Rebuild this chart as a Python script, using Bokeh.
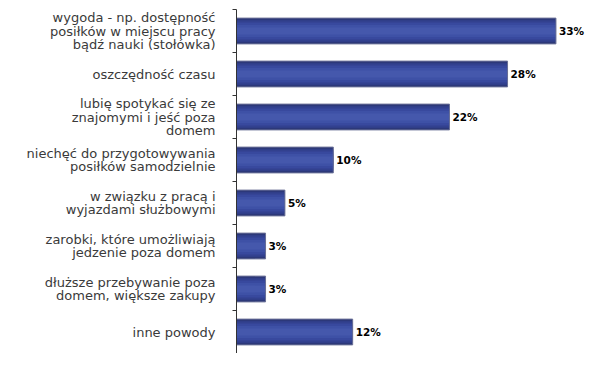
from bokeh.plotting import figure
from bokeh.models import Range1d, FixedTicker, ColumnDataSource
from bokeh.core.properties import value
from bokeh.embed import file_html
from bokeh.resources import INLINE

categories = [
    "wygoda - np. dostępność\nposiłków w miejscu pracy\nbądź nauki (stołówka)",
    "oszczędność czasu",
    "lubię spotykać się ze\nznajomymi i jeść poza\ndomem",
    "niechęć do przygotowywania\nposiłków samodzielnie",
    "w związku z pracą i\nwyjazdami służbowymi",
    "zarobki, które umożliwiają\njedzenie poza domem",
    "dłuższe przebywanie poza\ndomem, większe zakupy",
    "inne powody",
]
values = [33, 28, 22, 10, 5, 3, 3, 12]
value_labels = ["33%", "28%", "22%", "10%", "5%", "3%", "3%", "12%"]

pos = list(range(1, len(categories) + 1))
src = ColumnDataSource(dict(y=pos, v=values, lab=value_labels))

p = figure(width=599, height=353, output_backend="svg", toolbar_location=None,
           x_range=Range1d(0, 37.5), y_range=Range1d(len(categories) + 0.5, 0.5),
           min_border_left=236, min_border_right=0, min_border_top=9, min_border_bottom=0)
p.outline_line_color = None
p.xgrid.visible = False
p.ygrid.visible = False
p.xaxis.visible = False

# bars with a cylinder-like shading
shades = [(0.60, "#2c3879"), (0.50, "#32418f"), (0.40, "#38499e"),
          (0.28, "#3e51a6"), (0.16, "#4558ac")]
for h, c in shades:
    p.hbar(y="y", right="v", left=0, height=h, source=src,
           fill_color=c, line_color=None)
p.hbar(y="y", right="v", left=0, height=0.6, source=src,
       fill_color=None, line_color="#6a7096", line_width=1)

p.text(x="v", y="y", text="lab", source=src, x_offset=3,
       text_baseline="middle", text_align="left",
       text_font=value("DejaVu Sans"), text_font_style="bold",
       text_font_size="10.5px", text_color="#000000")

ax = p.yaxis[0]
ax.ticker = FixedTicker(ticks=pos, minor_ticks=[i + 0.5 for i in range(0, len(categories) + 1)])
ax.major_label_overrides = {i: c for i, c in zip(pos, categories)}
ax.major_tick_line_color = None
ax.major_tick_out = 0
ax.major_tick_in = 0
ax.minor_tick_out = 4
ax.minor_tick_in = 0
ax.minor_tick_line_color = "#333333"
ax.axis_line_color = "#333333"
ax.major_label_standoff = 17
ax.major_label_text_font = "DejaVu Sans"
ax.major_label_text_font_size = "13px"
ax.major_label_text_color = "#3a3a3a"
ax.major_label_text_line_height = 0.9

open("out.html", "w").write(file_html(p, INLINE))
